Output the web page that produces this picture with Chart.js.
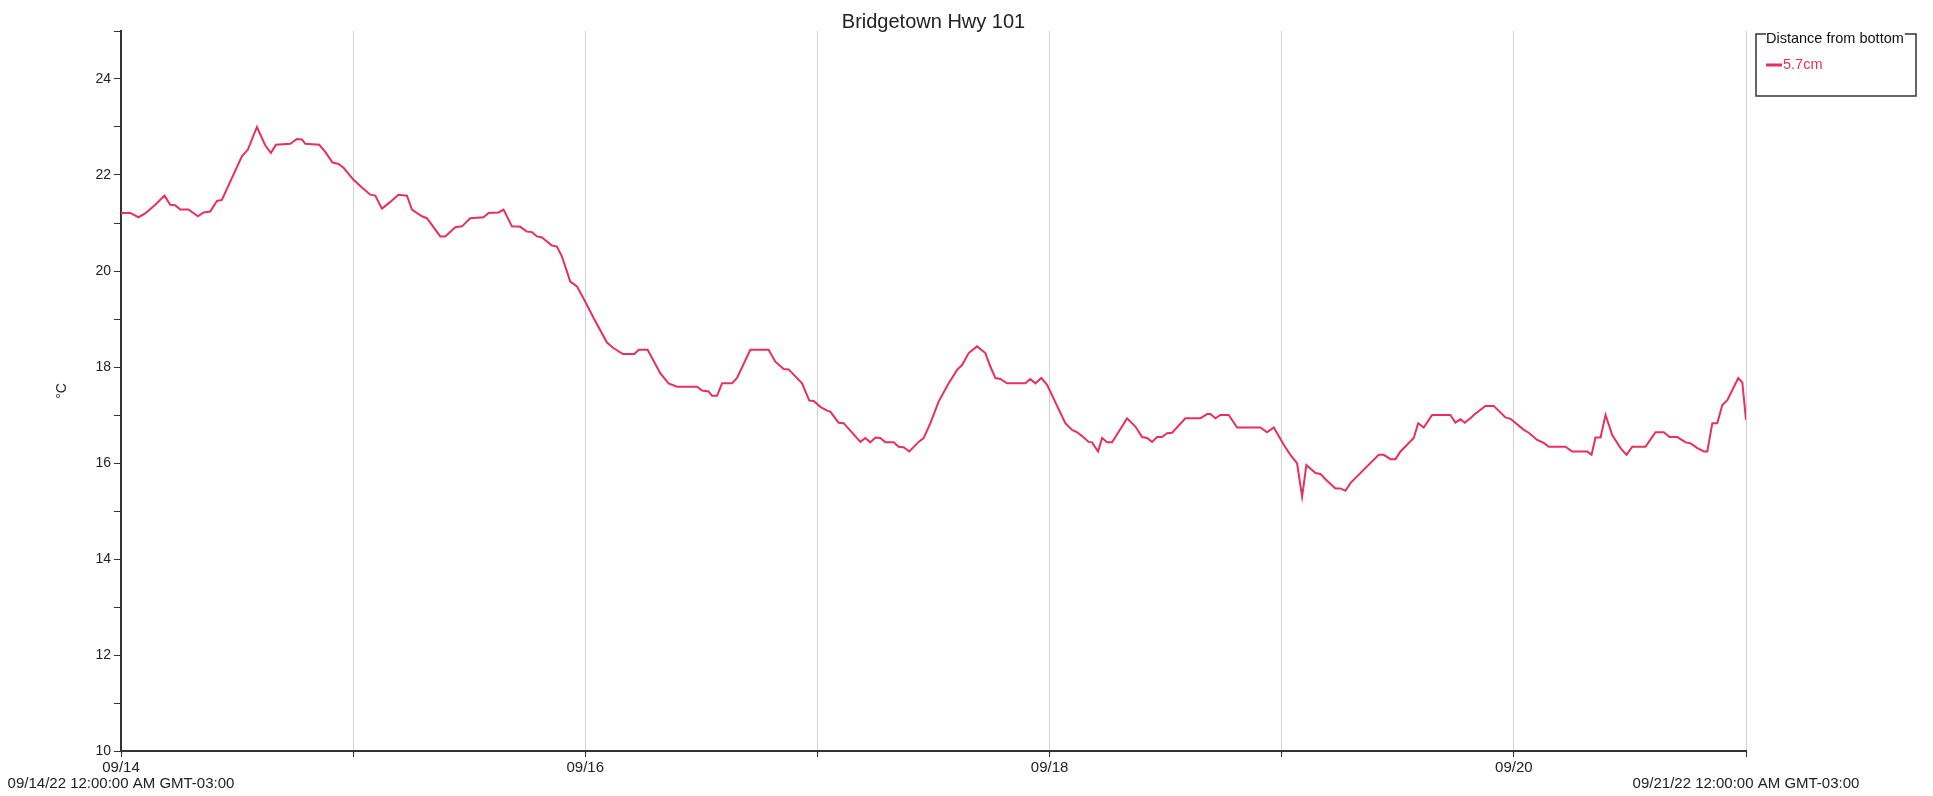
<!DOCTYPE html>
<html>
<head>
<meta charset="utf-8">
<title>Bridgetown Hwy 101</title>
<script src="https://cdn.jsdelivr.net/npm/chart.js@4.4.1/dist/chart.umd.min.js"></script>
<style>
  html, body { margin: 0; padding: 0; background: #fff; }
  #wrap { width: 1933px; height: 796px; }
</style>
</head>
<body>
<div id="wrap"><canvas id="tempChart" width="1933" height="796"></canvas></div>
<script>
// hours since 09/14/22 00:00 (GMT-03:00)
const hours = [
    0, 0.95, 1.81, 2.5, 3.54, 4.5, 5.09, 5.6, 6.12, 6.98, 7.95, 8.53, 9.22, 9.92, 10.43, 11.47, 12.5, 13.12, 14.05, 14.91, 15.5, 16.02, 17.5, 18.19, 18.71, 19.05, 20.5, 21.12, 21.87, 22.49, 23.01,
    24.04, 24.91, 25.77, 26.29, 26.98, 27.84, 28.69, 29.56, 30.08, 31.11, 31.63, 33.01, 33.52, 34.56, 35.25, 36.11, 37.48, 38.0, 39.04, 39.55, 40.42, 41.28, 41.97, 42.49, 43.01, 43.52, 44.56, 45.07, 45.59, 46.45, 47.14,
    48.0, 48.86, 50.24, 50.93, 51.9, 53.07, 53.52, 54.44, 55.75, 56.61, 57.48, 59.55, 60.07, 60.75, 61.1, 61.62, 62.14, 63.17, 63.69, 65.06, 66.95, 67.65, 68.51, 69.02, 70.41, 71.16, 71.61,
    72.3, 72.99, 73.33, 74.19, 74.71, 76.44, 76.95, 77.47, 77.99, 78.5, 79.02, 79.88, 80.4, 80.91, 81.5, 82.46, 82.98, 83.68, 84.53, 85.57, 86.44, 86.95, 87.64, 88.5, 89.36, 89.88, 90.4, 90.91, 91.6, 93.5, 94.01, 94.53, 95.15,
    95.74, 97.63, 98.33, 98.85, 99.36, 100.04, 100.39, 101.01, 101.43, 101.95, 102.46, 103.15, 104.01, 104.87, 105.57, 106.08, 106.6, 107.12, 107.63, 108.15, 108.67, 110.04, 111.59, 112.29, 112.63, 113.15, 113.66, 114.52, 115.39, 117.8, 118.49, 119.18,
    120.21, 120.9, 121.59, 122.11, 122.55, 123.49, 124.0, 124.69, 125.55, 126.07, 126.59, 127.1, 130.03, 130.55, 131.24, 131.76, 132.28, 133.65, 134.11, 134.68, 135.55, 137.44, 137.96, 138.48, 138.92, 139.51, 139.85, 141.06, 141.92, 143.13, 143.65,
    145.03, 145.54, 146.41, 147.09, 147.61, 149.34, 150.03, 151.58, 152.03, 152.44, 152.96, 153.48, 154.17, 155.03, 155.65, 156.24, 157.61, 158.65, 159.51, 160.1, 160.9, 161.76, 162.28, 162.97, 163.65, 164.0, 164.52, 165.03, 165.55, 166.07, 167.2, 167.62, 168
];

// water temperature, °C
const temps = [
    21.21, 21.21, 21.12, 21.2, 21.38, 21.57, 21.38, 21.37, 21.28, 21.28, 21.14, 21.22, 21.24, 21.46, 21.48, 21.94, 22.39, 22.53, 23.0, 22.62, 22.46, 22.63, 22.65, 22.75, 22.74, 22.65, 22.63, 22.48, 22.26, 22.23, 22.15,
    21.9, 21.74, 21.59, 21.57, 21.3, 21.44, 21.59, 21.57, 21.28, 21.14, 21.1, 20.72, 20.72, 20.91, 20.93, 21.1, 21.12, 21.21, 21.22, 21.28, 20.93, 20.92, 20.82, 20.81, 20.72, 20.7, 20.53, 20.51, 20.3, 19.78, 19.68,
    19.36, 19.02, 18.51, 18.39, 18.27, 18.27, 18.36, 18.36, 17.87, 17.66, 17.59, 17.59, 17.51, 17.49, 17.4, 17.4, 17.66, 17.66, 17.77, 18.36, 18.36, 18.11, 17.96, 17.95, 17.66, 17.3, 17.29,
    17.17, 17.09, 17.07, 16.84, 16.83, 16.44, 16.52, 16.43, 16.53, 16.52, 16.43, 16.43, 16.34, 16.33, 16.24, 16.44, 16.52, 16.83, 17.28, 17.66, 17.94, 18.04, 18.29, 18.43, 18.29, 18.01, 17.77, 17.75, 17.66, 17.66, 17.75, 17.66, 17.77,
    17.63, 16.83, 16.69, 16.64, 16.56, 16.44, 16.43, 16.24, 16.52, 16.43, 16.43, 16.65, 16.93, 16.76, 16.54, 16.52, 16.44, 16.54, 16.54, 16.62, 16.63, 16.93, 16.93, 17.02, 17.02, 16.93, 17.0, 17.0, 16.74, 16.74, 16.64, 16.74,
    16.38, 16.17, 15.99, 15.3, 15.96, 15.79, 15.77, 15.63, 15.47, 15.47, 15.42, 15.58, 16.17, 16.17, 16.08, 16.08, 16.24, 16.52, 16.83, 16.74, 17.0, 17.0, 16.84, 16.91, 16.84, 16.93, 17.0, 17.19, 17.19, 16.95, 16.92,
    16.69, 16.63, 16.48, 16.42, 16.34, 16.34, 16.24, 16.24, 16.17, 16.53, 16.53, 17.0, 16.58, 16.31, 16.17, 16.34, 16.34, 16.64, 16.64, 16.54, 16.54, 16.43, 16.41, 16.31, 16.24, 16.24, 16.83, 16.83, 17.21, 17.31, 17.77, 17.68, 16.9
];

const dayLabels = ['09/14', '09/15', '09/16', '09/17', '09/18', '09/19', '09/20', '09/21'];
const startStamp = '09/14/22 12:00:00 AM GMT-03:00';
const endStamp = '09/21/22 12:00:00 AM GMT-03:00';
const seriesLabel = '5.7cm';
const legendTitle = 'Distance from bottom';
const chartTitle = 'Bridgetown Hwy 101';
const yTitle = '°C';

const FONT = "'Liberation Sans', Arial, sans-serif";
const LINE_COLOR = '#e8305e';
const AXIS_COLOR = '#333333';

// boxed legend with its title set into the top border
const boxLegend = {
    id: 'boxLegend',
    afterDraw(chart) {
        const { ctx, chartArea } = chart;
        const ds = chart.data.datasets[0];
        const x0 = chartArea.right + 10;
        const y0 = chartArea.top + 3;
        const w = 160;
        const h = 62;

        ctx.save();
        ctx.font = '14.5px ' + FONT;
        const tw = ctx.measureText(legendTitle).width;

        ctx.strokeStyle = AXIS_COLOR;
        ctx.lineWidth = 1.5;
        ctx.beginPath();
        ctx.moveTo(x0 + 10, y0);
        ctx.lineTo(x0, y0);
        ctx.lineTo(x0, y0 + h);
        ctx.lineTo(x0 + w, y0 + h);
        ctx.lineTo(x0 + w, y0);
        ctx.lineTo(Math.min(x0 + 11 + tw, x0 + w), y0);
        ctx.stroke();

        ctx.fillStyle = '#111';
        ctx.textBaseline = 'middle';
        ctx.textAlign = 'left';
        ctx.fillText(legendTitle, x0 + 10, y0 + 5);

        const iy = y0 + 31;
        ctx.strokeStyle = ds.borderColor;
        ctx.lineWidth = 3;
        ctx.beginPath();
        ctx.moveTo(x0 + 10, iy);
        ctx.lineTo(x0 + 26, iy);
        ctx.stroke();

        ctx.fillStyle = ds.borderColor;
        ctx.fillText(ds.label, x0 + 27, iy);
        ctx.restore();
    }
};

const points = hours.map((h, i) => ({ x: h, y: temps[i] }));

const ctx = document.getElementById('tempChart').getContext('2d');
const chart = new Chart(ctx, {
    type: 'line',
    data: {
        datasets: [{
            label: seriesLabel,
            data: points,
            borderColor: LINE_COLOR,
            backgroundColor: LINE_COLOR,
            borderWidth: 2,
            pointRadius: 0,
            fill: false,
            tension: 0
        }]
    },
    options: {
        responsive: false,
        animation: false,
        events: [],
        layout: {
            padding: { left: 0, right: 187, top: 0, bottom: 0 }
        },
        plugins: {
            legend: { display: false },
            tooltip: { enabled: false },
            title: {
                display: true,
                text: chartTitle,
                fullSize: false,
                color: '#222',
                font: { family: FONT, size: 20, weight: 'normal' },
                padding: { top: 10, bottom: -3 }
            }
        },
        scales: {
            x: {
                type: 'linear',
                min: 0,
                max: 168,
                afterFit: (scale) => { scale.height = 45; },
                border: { display: true, color: AXIS_COLOR, width: 2 },
                grid: {
                    color: '#cfcfcf',
                    lineWidth: 1,
                    tickColor: AXIS_COLOR,
                    tickLength: 6
                },
                ticks: {
                    stepSize: 24,
                    autoSkip: false,
                    maxRotation: 0,
                    minRotation: 0,
                    padding: 3,
                    color: '#222',
                    font: { family: FONT, size: 15, lineHeight: 1.05 },
                    callback: (value) => {
                        const d = Math.round(value / 24);
                        const top = (d % 2 === 0 && d < 7) ? dayLabels[d] : '';
                        if (d === 0) return [top, startStamp];
                        if (d === 7) return [top, endStamp];
                        return top;
                    }
                }
            },
            y: {
                min: 10,
                max: 25,
                afterFit: (scale) => { scale.width = 121; },
                border: { display: true, color: AXIS_COLOR, width: 2 },
                grid: {
                    drawOnChartArea: false,
                    tickColor: AXIS_COLOR,
                    tickLength: 7
                },
                ticks: {
                    stepSize: 1,
                    autoSkip: false,
                    padding: 3,
                    color: '#222',
                    font: { family: FONT, size: 14 },
                    callback: (value) => (value % 2 === 0 && value < 25) ? value : ''
                },
                title: {
                    display: true,
                    text: yTitle,
                    color: '#222',
                    font: { family: FONT, size: 14 },
                    padding: { top: 54, bottom: 0 }
                }
            }
        }
    },
    plugins: [boxLegend]
});
</script>
</body>
</html>
